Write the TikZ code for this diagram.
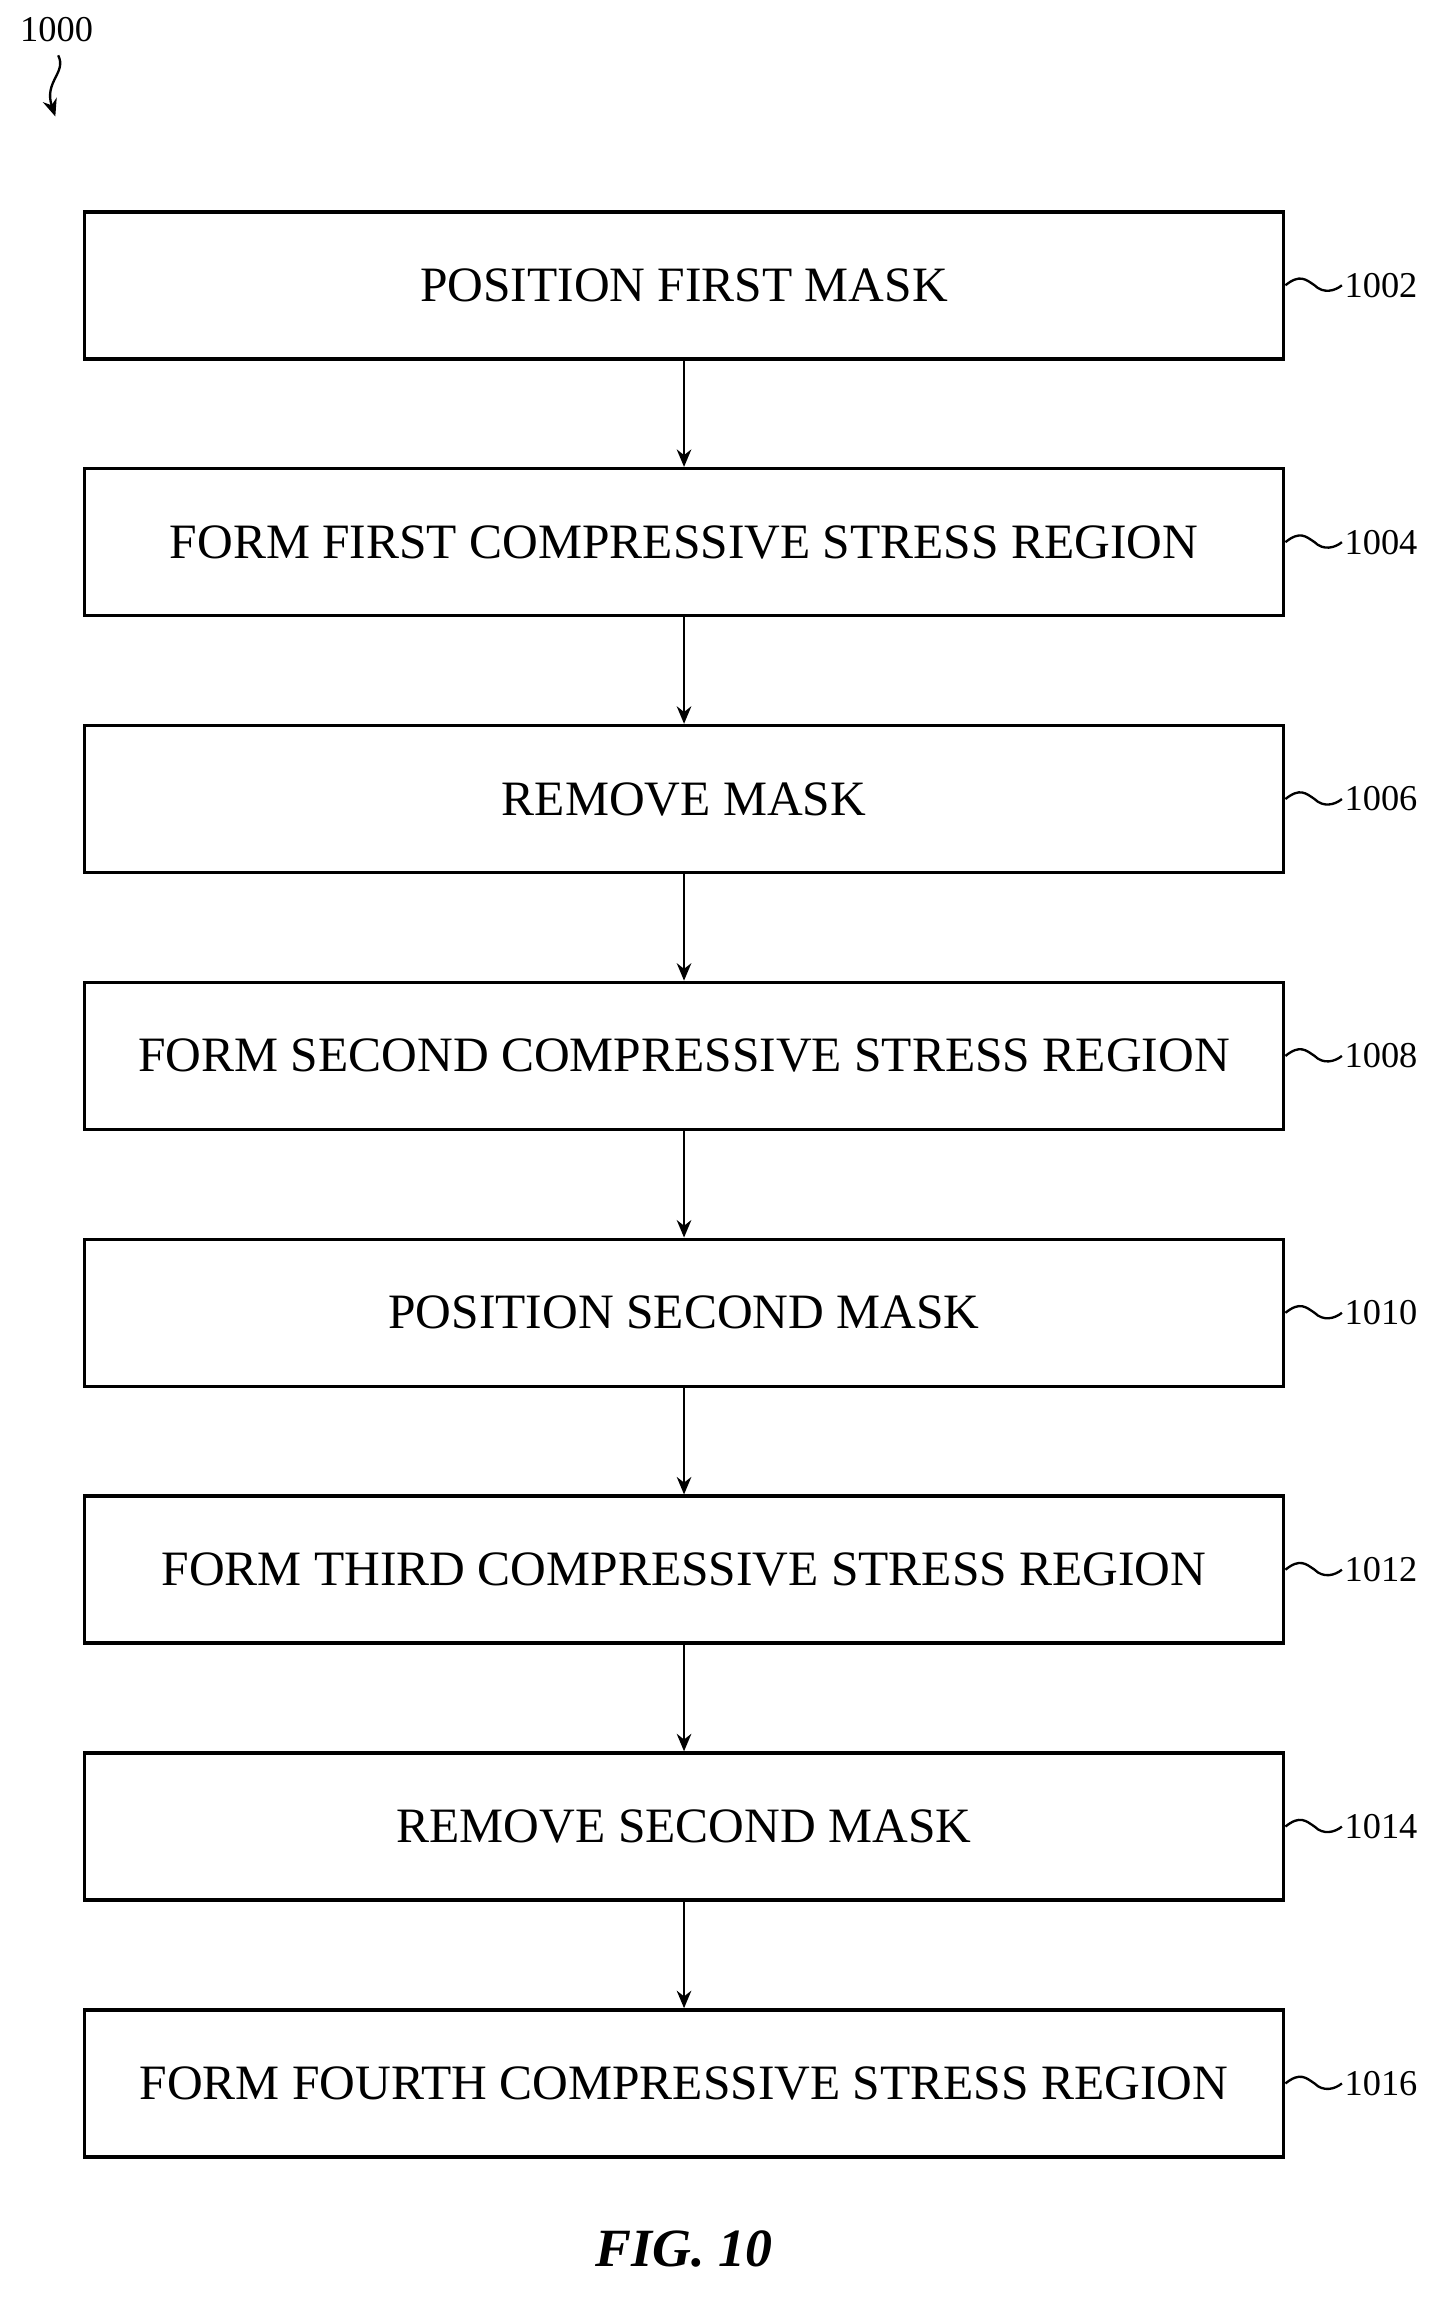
\documentclass[tikz,border=0pt]{standalone}
\usepackage{fontspec}
\setmainfont{Liberation Serif}
\usetikzlibrary{positioning,arrows.meta}
\begin{document}
\begin{tikzpicture}[x=0.5pt,y=0.5pt,yscale=-1,
    stepbox/.style={draw,line width=1.2pt,minimum width=412pt,minimum height=50.5pt,inner sep=0pt,font=\fontsize{17}{20}\selectfont},
    flow/.style={-{Stealth[length=6pt,width=5pt]},line width=0.8pt},
    tag/.style={anchor=west,inner sep=0.75pt,font=\fontsize{12.5}{14}\selectfont}]
        \useasboundingbox (0,0) rectangle (1000,1581);

        % Step boxes
        \foreach \i/\txt/\num in {1/POSITION FIRST MASK/1002,2/FORM FIRST COMPRESSIVE STRESS REGION/1004,3/REMOVE MASK/1006,4/FORM SECOND COMPRESSIVE STRESS REGION/1008,5/POSITION SECOND MASK/1010,6/FORM THIRD COMPRESSIVE STRESS REGION/1012,7/REMOVE SECOND MASK/1014,8/FORM FOURTH COMPRESSIVE STRESS REGION/1016}{
            \node [stepbox] (s\i) at (470,{196+176.5*(\i-1)}) {\txt};
            \node [tag] (t\i) at (922,{196+176.5*(\i-1)}) {\num};
            \draw [line width=0.8pt] (s\i.east) .. controls ([shift={(5pt,-4pt)}]s\i.east) and ([shift={(7pt,-2pt)}]s\i.east) .. ([xshift=10pt]s\i.east) .. controls ([shift={(13pt,3pt)}]s\i.east) and ([shift={(17pt,2pt)}]s\i.east) .. (t\i.west);
        }

        % Arrows
        \foreach \i [evaluate=\i as \j using int(\i+1)] in {1,...,7}{
            \draw [flow] (s\i) -- (s\j);
        }

        % Text Node
        \node [anchor=north west,inner sep=0.75pt,font=\fontsize{12.5}{14}\selectfont] (fig) at (12,10) {1000};
        \coordinate (tip) at (38,80);
        \draw [flow] (40,38) .. controls (46,50) and (30,56) .. (tip);

        % Text Node
        \node [font=\fontsize{18.5}{20}\selectfont\itshape\bfseries] (cap) at (470,1545) {FIG. 10};
\end{tikzpicture}
\end{document}
